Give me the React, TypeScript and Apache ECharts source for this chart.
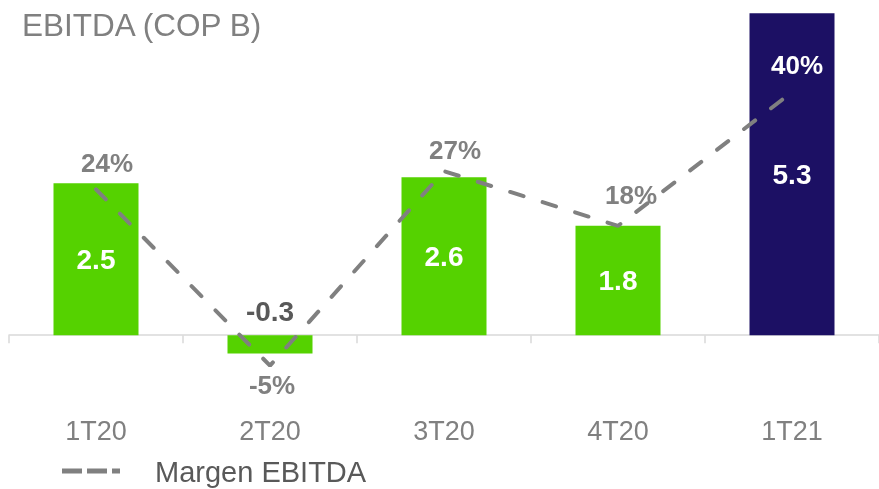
import React, { useEffect, useRef } from "react";
import * as echarts from "echarts";

const categories = ["1T20", "2T20", "3T20", "4T20", "1T21"];
const ebitda = [2.5, -0.3, 2.6, 1.8, 5.3];
const margin = [24, -5, 27, 18, 40];
const marginLabelOffsets = [
  [11, -26],
  [2, 19],
  [11, -21],
  [13, -31],
  [5, -27],
];

const GREEN = "#55d200";
const NAVY = "#1c1064";
const GRAY = "#808080";
const DARK = "#595959";
const FONT = "'Liberation Sans', Arial, sans-serif";

export default function App() {
  const ref = useRef<HTMLDivElement>(null);

  useEffect(() => {
    if (!ref.current) return;
    const chart = echarts.init(ref.current, undefined, { renderer: "svg" });
    const last = categories.length - 1;
    chart.setOption({
      animation: false,
      textStyle: { fontFamily: FONT },
      title: {
        text: "EBITDA (COP B)",
        left: 22,
        top: 9,
        padding: 0,
        textStyle: { fontFamily: FONT, fontSize: 31.5, fontWeight: "normal", color: GRAY },
      },
      grid: {
        left: 9,
        right: 0,
        top: 1,
        bottom: 93,
        containLabel: false,
        outerBoundsMode: "none",
      },
      xAxis: {
        type: "category",
        data: categories,
        axisLine: { show: true, onZero: true, lineStyle: { color: "#d9d9d9", width: 1.5 } },
        axisTick: { show: true, length: 8, lineStyle: { color: "#d9d9d9", width: 1.5 } },
        axisLabel: { margin: 21, fontSize: 27, color: GRAY, fontFamily: FONT },
      },
      yAxis: [
        { type: "value", min: -1, max: 5.5, show: false, splitLine: { show: false } },
        { type: "value", min: -10, max: 55, show: false, splitLine: { show: false } },
      ],
      series: [
        {
          type: "bar",
          yAxisIndex: 0,
          barWidth: 85,
          data: ebitda.map((v, i) => ({
            value: v,
            itemStyle: { color: i === last ? NAVY : GREEN },
            label:
              v < 0
                ? { position: "inside", offset: [0, -33], color: DARK }
                : { position: "inside", color: "#ffffff" },
          })),
          label: {
            show: true,
            fontSize: 28,
            fontWeight: "bold",
            fontFamily: FONT,
            formatter: (p: any) => Number(p.value).toFixed(1),
          },
          z: 2,
        },
        {
          type: "line",
          name: "Margen EBITDA",
          yAxisIndex: 1,
          data: margin.map((v, i) => ({
            value: v,
            label: {
              offset: marginLabelOffsets[i],
              color: i === last ? "#ffffff" : GRAY,
            },
          })),
          symbol: "circle",
          symbolSize: 1,
          itemStyle: { color: "rgba(0,0,0,0)" },
          lineStyle: { color: GRAY, width: 4, type: [14, 20], cap: "round" },
          label: {
            show: true,
            position: "inside",
            fontSize: 26,
            fontWeight: "bold",
            fontFamily: FONT,
            formatter: (p: any) => `${p.value}%`,
          },
          z: 3,
        },
      ],
      graphic: [
        {
          type: "line",
          shape: { x1: 62, y1: 471, x2: 120, y2: 471 },
          style: { stroke: GRAY, lineWidth: 5, lineDash: [20, 5] },
        },
        {
          type: "text",
          x: 155,
          y: 472,
          style: {
            text: "Margen EBITDA",
            fontSize: 29,
            fontFamily: FONT,
            fill: DARK,
            verticalAlign: "middle",
          },
        },
      ],
    });
    return () => chart.dispose();
  }, []);

  return (
    <div
      ref={ref}
      style={{ position: "fixed", left: 0, top: 0, width: 879, height: 489 }}
    />
  );
}
